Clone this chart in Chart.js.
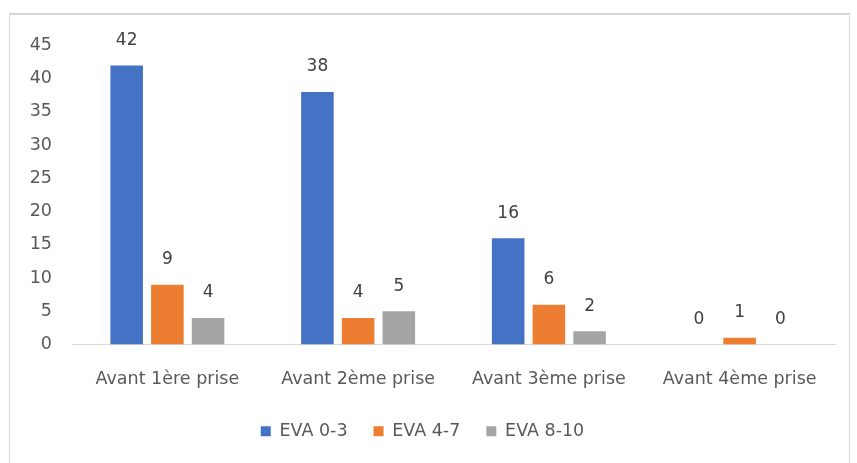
<!DOCTYPE html>
<html>
<head>
<meta charset="utf-8">
<script src="https://cdn.jsdelivr.net/npm/chart.js@4.4.0/dist/chart.umd.min.js"></script>
<style>
  html, body { margin: 0; padding: 0; background: #ffffff; }
  body { width: 857px; height: 463px; position: relative; overflow: hidden; }
  #frame { position: absolute; left: 9px; top: 13px; width: 841px; height: 460px;
           border: 1px solid #d9d9d9; border-top: 2px solid #d4d4d4; box-sizing: border-box; }
  #wrap { position: absolute; left: 0; top: 0; width: 839px; height: 449px; }
</style>
</head>
<body>
<div id="frame"><div id="wrap"><canvas id="c"></canvas></div></div>
<script>
const categories = ["Avant 1ère prise", "Avant 2ème prise", "Avant 3ème prise", "Avant 4ème prise"];
const seriesNames = ["EVA 0-3", "EVA 4-7", "EVA 8-10"];
const eva03 = [42, 38, 16, 0];
const eva47 = [9, 4, 6, 1];
const eva810 = [4, 5, 2, 0];
const yTicks = [0, 5, 10, 15, 20, 25, 30, 35, 40, 45];

const colors = ["#4472C4", "#ED7D31", "#A5A5A5"];
const FONT = "'DejaVu Sans', 'Open Sans', sans-serif";

const valueLabels = {
  id: 'valueLabels',
  afterDatasetsDraw(chart) {
    const ctx = chart.ctx;
    ctx.save();
    ctx.font = "17px " + FONT;
    ctx.fillStyle = "#404040";
    ctx.textAlign = "center";
    ctx.textBaseline = "middle";
    chart.data.datasets.forEach((ds, i) => {
      const meta = chart.getDatasetMeta(i);
      meta.data.forEach((bar, j) => {
        ctx.fillText(String(ds.data[j]), bar.x, bar.y - 25);
      });
    });
    ctx.restore();
  }
};

new Chart(document.getElementById('c'), {
  type: 'bar',
  data: {
    labels: categories,
    datasets: [
      { label: seriesNames[0], data: eva03, backgroundColor: colors[0] },
      { label: seriesNames[1], data: eva47, backgroundColor: colors[1] },
      { label: seriesNames[2], data: eva810, backgroundColor: colors[2] }
    ]
  },
  options: {
    responsive: true,
    maintainAspectRatio: false,
    animation: false,
    events: [],
    layout: { padding: { top: 29, right: 14, left: 0, bottom: 14 } },
    datasets: { bar: { categoryPercentage: 0.64, barPercentage: 0.8 } },
    scales: {
      x: {
        grid: { display: false, drawTicks: false },
        border: { display: true, color: '#d9d9d9', width: 1 },
        ticks: { color: '#595959', font: { family: FONT, size: 17.5 }, padding: 24, maxRotation: 0 },
        afterFit(scale) { scale.height = 52; }
      },
      y: {
        min: 0, max: 45,
        afterBuildTicks(scale) { scale.ticks = yTicks.map(v => ({ value: v })); },
        grid: { display: false, drawTicks: false },
        border: { display: false },
        ticks: { color: '#595959', font: { family: FONT, size: 17.5 }, padding: 20 },
        afterFit(scale) { scale.width = 62; }
      }
    },
    plugins: {
      legend: {
        position: 'bottom',
        labels: { boxWidth: 10, boxHeight: 10, padding: 26, color: '#595959',
                  font: { family: FONT, size: 17.5 } }
      },
      tooltip: { enabled: false }
    }
  },
  plugins: [valueLabels]
});
</script>
</body>
</html>
